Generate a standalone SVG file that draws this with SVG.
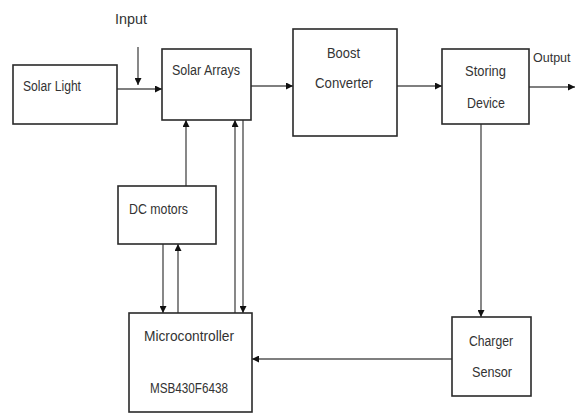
<svg xmlns="http://www.w3.org/2000/svg" width="577" height="413" viewBox="0 0 577 413">
<defs>
<marker id="ah" viewBox="0 0 10 10" refX="10" refY="5" markerWidth="7" markerHeight="7" markerUnits="userSpaceOnUse" orient="auto">
<path d="M0,0 L10,5 L0,10 z" fill="#111"/>
</marker>
</defs>
<style>
.box{fill:#fff;stroke:#2a2a2a;stroke-width:1.6}
.t{font-family:"Liberation Sans",Arial,sans-serif;font-size:14px;fill:#333}
.c{fill:none;stroke:#555;stroke-width:1.4;marker-end:url(#ah)}
</style>
<rect width="577" height="413" fill="#fff"/>
<g id="connectors">
<path class="c" d="M117,89 L162,89"/>
<path class="c" d="M138,47 L138,85"/>
<path class="c" d="M251,86 L293,86"/>
<path class="c" d="M397,86 L442,86"/>
<path class="c" d="M529,87 L575,87"/>
<path class="c" d="M481,124 L481,317"/>
<path class="c" d="M452,359 L252,359"/>
<path class="c" d="M186,186 L186,120"/>
<path class="c" d="M163,244 L163,313"/>
<path class="c" d="M178,313 L178,244"/>
<path class="c" d="M235,313 L235,120"/>
<path class="c" d="M243,120 L243,313"/>
</g>
<g id="input-label"><text class="t" x="115" y="24" textLength="32" lengthAdjust="spacingAndGlyphs">Input</text></g>
<g id="output-label"><text class="t" x="533" y="62" style="font-size:12.5px">Output</text></g>
<g id="solar-light">
<rect class="box" x="13" y="65" width="104" height="59"/>
<text class="t" x="23" y="91" textLength="58" lengthAdjust="spacingAndGlyphs">Solar Light</text>
</g>
<g id="solar-arrays">
<rect class="box" x="162" y="49" width="89" height="71"/>
<text class="t" x="172" y="75" textLength="68" lengthAdjust="spacingAndGlyphs">Solar Arrays</text>
</g>
<g id="boost-converter">
<rect class="box" x="293" y="29" width="104" height="107"/>
<text class="t" x="327" y="58" textLength="33" lengthAdjust="spacingAndGlyphs">Boost</text>
<text class="t" x="315" y="88" textLength="58" lengthAdjust="spacingAndGlyphs">Converter</text>
</g>
<g id="storing-device">
<rect class="box" x="442" y="49" width="87" height="75"/>
<text class="t" x="465" y="76" textLength="41" lengthAdjust="spacingAndGlyphs">Storing</text>
<text class="t" x="467" y="108" textLength="38" lengthAdjust="spacingAndGlyphs">Device</text>
</g>
<g id="dc-motors">
<rect class="box" x="118" y="186" width="98" height="58"/>
<text class="t" x="129" y="214" textLength="59" lengthAdjust="spacingAndGlyphs">DC motors</text>
</g>
<g id="microcontroller">
<rect class="box" x="129" y="313" width="123" height="99"/>
<text class="t" x="144" y="341" textLength="90" lengthAdjust="spacingAndGlyphs">Microcontroller</text>
<text class="t" x="150" y="393" textLength="78" lengthAdjust="spacingAndGlyphs">MSB430F6438</text>
</g>
<g id="charger-sensor">
<rect class="box" x="452" y="317" width="79" height="79"/>
<text class="t" x="469" y="346" textLength="44" lengthAdjust="spacingAndGlyphs">Charger</text>
<text class="t" x="472" y="377" textLength="40" lengthAdjust="spacingAndGlyphs">Sensor</text>
</g>
</svg>
